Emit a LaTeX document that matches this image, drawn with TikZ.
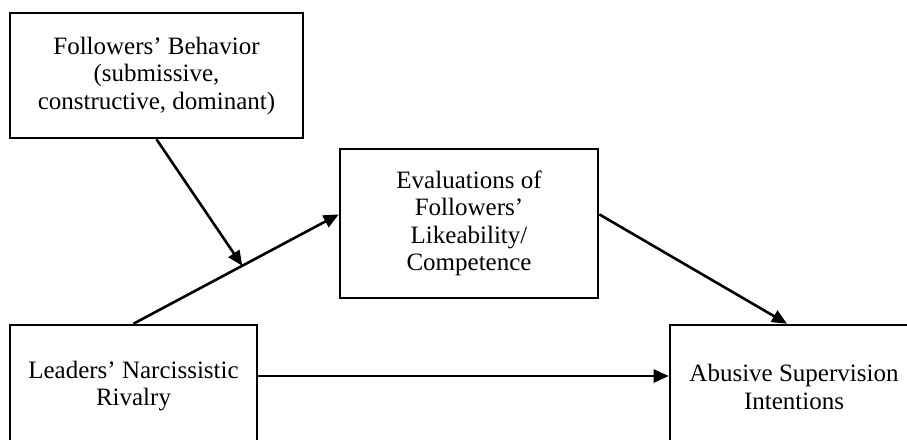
\documentclass[tikz,border=0pt]{standalone}
\usepackage{fontspec}
\setmainfont{Liberation Serif}
\usetikzlibrary{arrows.meta,positioning,calc}
\tikzset{
  box/.style={rectangle, draw=black, line width=2.6pt, inner sep=0pt,
    font=\fontsize{25}{27.5}\selectfont, align=center},
  arr/.style={-{Triangle[length=15pt,width=13pt]}, line width=2.6pt}
}
\begin{document}
\begin{tikzpicture}[x=1pt,y=-1pt]
  \clip (0,0) rectangle (907,439);
  \node[box, minimum width=293pt, minimum height=125pt] (fb) at (156.5,75.5)
    {Followers’ Behavior\\(submissive,\\constructive, dominant)};
  \node[box, minimum width=258pt, minimum height=149pt] (ev) at (469,223.5)
    {Evaluations of\\Followers’\\Likeability/\\Competence};
  \node[box, minimum width=247pt, minimum height=122pt] (lr) at (133.5,386)
    {Leaders’ Narcissistic\\Rivalry};
  \node[box, minimum width=248pt, minimum height=124pt] (ab) at (794,387)
    {Abusive Supervision\\Intentions};

  % moderated path
  \coordinate (mid) at ($(lr.north)!0.53!(ev.176)$);
  \draw[arr] (lr.north) -- (ev.176);
  \draw[arr] (fb.south) -- (mid);
  \draw[arr] (ev.4) -- ([xshift=-7pt]ab.north);
  \draw[arr] ([yshift=10pt]lr.east) -- ([yshift=10pt]lr.east -| ab.west);
\end{tikzpicture}
\end{document}
